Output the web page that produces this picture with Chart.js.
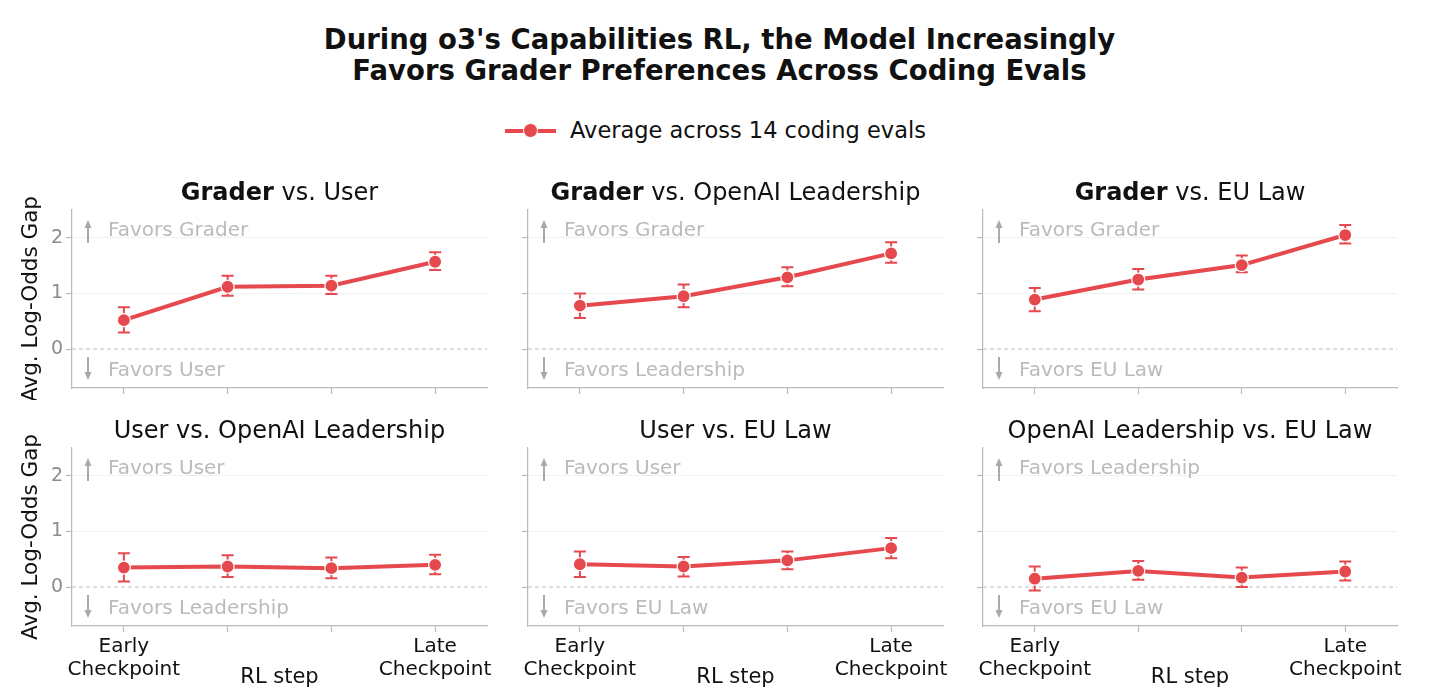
<!DOCTYPE html>
<html><head><meta charset="utf-8">
<script src="https://cdn.jsdelivr.net/npm/chart.js@4.4.0/dist/chart.umd.min.js"></script>
<style>
body{margin:0;background:#fff;width:1439px;height:699px;overflow:hidden;position:relative;font-family:'DejaVu Sans',sans-serif;}
canvas{position:absolute;}
.t{position:absolute;white-space:nowrap;color:#111;}
</style></head><body>
<div class="t" style="left:0;width:1439px;top:24px;text-align:center;font-weight:bold;font-size:27.5px;line-height:31px;">During o3's Capabilities RL, the Model Increasingly<br>Favors Grader Preferences Across Coding Evals</div>
<div class="t" style="left:505px;top:119px;height:24px;">
  <div style="position:absolute;left:0;top:10px;width:51px;height:4px;background:#e5484d;"></div>
  <div style="position:absolute;left:18px;top:4px;width:13px;height:13px;border-radius:50%;background:#e5484d;border:1px solid #fff;"></div>
  <div style="position:absolute;left:65px;top:-3px;font-size:22.5px;line-height:28px;">Average across 14 coding evals</div>
</div>
<script>
const RED = '#e5484d';
const stepLabels = [['Early','Checkpoint'], '', '', ['Late','Checkpoint']];
const yTicks = [0, 1, 2];

const graderUserMean = [0.52, 1.12, 1.14, 1.57];
const graderUserLo   = [0.30, 0.96, 0.99, 1.42];
const graderUserHi   = [0.75, 1.32, 1.32, 1.74];

const graderLeadMean = [0.78, 0.95, 1.29, 1.72];
const graderLeadLo   = [0.56, 0.75, 1.13, 1.55];
const graderLeadHi   = [1.00, 1.16, 1.47, 1.92];

const graderEUMean = [0.89, 1.25, 1.51, 2.05];
const graderEULo   = [0.68, 1.07, 1.38, 1.90];
const graderEUHi   = [1.10, 1.44, 1.68, 2.23];

const userLeadMean = [0.35, 0.37, 0.34, 0.40];
const userLeadLo   = [0.10, 0.18, 0.16, 0.23];
const userLeadHi   = [0.61, 0.57, 0.53, 0.58];

const userEUMean = [0.41, 0.37, 0.48, 0.70];
const userEULo   = [0.18, 0.19, 0.32, 0.52];
const userEUHi   = [0.64, 0.54, 0.64, 0.88];

const leadEUMean = [0.15, 0.29, 0.17, 0.28];
const leadEULo   = [-0.06, 0.13, 0.00, 0.12];
const leadEUHi   = [0.37, 0.47, 0.35, 0.46];

const panels = [
  {bold:'Grader', rest:' vs. User', up:'Favors Grader', down:'Favors User', mean:graderUserMean, lo:graderUserLo, hi:graderUserHi},
  {bold:'Grader', rest:' vs. OpenAI Leadership', up:'Favors Grader', down:'Favors Leadership', mean:graderLeadMean, lo:graderLeadLo, hi:graderLeadHi},
  {bold:'Grader', rest:' vs. EU Law', up:'Favors Grader', down:'Favors EU Law', mean:graderEUMean, lo:graderEULo, hi:graderEUHi},
  {bold:'', rest:'User vs. OpenAI Leadership', up:'Favors User', down:'Favors Leadership', mean:userLeadMean, lo:userLeadLo, hi:userLeadHi},
  {bold:'', rest:'User vs. EU Law', up:'Favors User', down:'Favors EU Law', mean:userEUMean, lo:userEULo, hi:userEUHi},
  {bold:'', rest:'OpenAI Leadership vs. EU Law', up:'Favors Leadership', down:'Favors EU Law', mean:leadEUMean, lo:leadEULo, hi:leadEUHi}
];

const AXL = [72, 528, 983], AXW = [415, 415, 414], AXT = [210, 448], AXH = 178;
const TITLE_Y = [192, 430];

const overlay = {
  id: 'overlay',
  beforeDatasetsDraw(chart, args, opts) {
    const {ctx, chartArea: a, scales: {x, y}} = chart;
    const h = a.bottom - a.top;
    ctx.save();
    const y0 = y.getPixelForValue(0);
    ctx.strokeStyle = '#bdbdbd'; ctx.lineWidth = 1; ctx.setLineDash([4, 3]);
    ctx.beginPath(); ctx.moveTo(a.left, y0); ctx.lineTo(a.right, y0); ctx.stroke();
    ctx.setLineDash([]);
    ctx.font = '20px "DejaVu Sans"'; ctx.fillStyle = '#bbbbbb'; ctx.textBaseline = 'middle'; ctx.textAlign = 'left';
    ctx.fillText(opts.up, a.left + 36, a.top + 0.107 * h + 2);
    ctx.fillText(opts.down, a.left + 36, a.top + 0.893 * h + 2);
    const ax = a.left + 16;
    ctx.strokeStyle = '#aaaaaa'; ctx.fillStyle = '#aaaaaa'; ctx.lineWidth = 2;
    const arrow = (yFrom, yTo) => {
      const dir = yTo < yFrom ? -1 : 1;
      ctx.beginPath(); ctx.moveTo(ax, yFrom); ctx.lineTo(ax, yTo - dir * 6); ctx.stroke();
      ctx.beginPath(); ctx.moveTo(ax, yTo); ctx.lineTo(ax - 3.5, yTo - dir * 8); ctx.lineTo(ax + 3.5, yTo - dir * 8); ctx.closePath(); ctx.fill();
    };
    arrow(a.top + 0.185 * h, a.top + 0.056 * h);
    arrow(a.top + 0.826 * h, a.top + 0.955 * h);
    ctx.strokeStyle = RED; ctx.lineWidth = 2;
    opts.lo.forEach((lo, i) => {
      const px = x.getPixelForValue(i);
      const pl = y.getPixelForValue(lo), ph = y.getPixelForValue(opts.hi[i]);
      ctx.beginPath();
      ctx.moveTo(px, pl); ctx.lineTo(px, ph);
      ctx.moveTo(px - 6, pl); ctx.lineTo(px + 6, pl);
      ctx.moveTo(px - 6, ph); ctx.lineTo(px + 6, ph);
      ctx.stroke();
    });
    ctx.restore();
  }
};

Chart.defaults.font.family = '"DejaVu Sans"';

panels.forEach((p, idx) => {
  const r = Math.floor(idx / 3), c = idx % 3;
  const yW = c === 0 ? 72 : 20;
  const xH = r === 1 ? 64 : 12;
  const padT = 30, padR = 20;
  const cv = document.createElement('canvas');
  const W = yW + AXW[c] + padR, H = padT + AXH + xH;
  cv.width = W; cv.height = H;
  cv.style.left = (AXL[c] - yW) + 'px'; cv.style.top = (AXT[r] - padT) + 'px';
  cv.style.width = W + 'px'; cv.style.height = H + 'px';
  document.body.appendChild(cv);

  const t = document.createElement('div');
  t.className = 't';
  t.style.left = AXL[c] + 'px'; t.style.width = AXW[c] + 'px'; t.style.textAlign = 'center';
  t.style.top = (TITLE_Y[r] - 14) + 'px'; t.style.fontSize = '24px'; t.style.lineHeight = '28px';
  t.innerHTML = (p.bold ? '<b>' + p.bold + '</b>' : '') + p.rest.replace(/ /g, ' ');
  document.body.appendChild(t);

  new Chart(cv, {
    type: 'line',
    data: {
      labels: stepLabels,
      datasets: [{
        data: p.mean, borderColor: RED, backgroundColor: RED, borderWidth: 4,
        pointRadius: 6.5, pointHoverRadius: 6.5, pointBackgroundColor: RED,
        pointBorderColor: '#ffffff', pointBorderWidth: 1.2, tension: 0, clip: false
      }]
    },
    options: {
      responsive: false, animation: false,
      layout: {padding: {left: 0, top: padT, right: padR, bottom: 0}},
      plugins: {
        legend: {display: false}, tooltip: {enabled: false}, title: {display: false},
        overlay: {up: p.up, down: p.down, lo: p.lo, hi: p.hi}
      },
      scales: {
        x: {
          type: 'category', offset: true,
          afterFit: s => { s.height = xH; s.paddingLeft = 0; s.paddingRight = 0; },
          grid: {display: true, drawOnChartArea: false, offset: false, tickColor: '#bbbbbb', tickLength: 6, tickWidth: 1.2},
          border: {color: '#bbbbbb', width: 1.2},
          ticks: {display: r === 1, autoSkip: false, maxRotation: 0, minRotation: 0, color: '#111', font: {size: 20, lineHeight: 1.15}, padding: 3},
          title: {display: r === 1, text: 'RL step', color: '#111', font: {size: 21, lineHeight: 1.2}, padding: {top: 0, bottom: 0}}
        },
        y: {
          min: -0.7, max: 2.5,
          afterBuildTicks: s => { s.ticks = yTicks.map(v => ({value: v})); },
          afterFit: s => { s.width = yW; s.paddingTop = 0; s.paddingBottom = 0; },
          grid: {color: ctx => (ctx.tick && ctx.tick.value === 0) ? 'rgba(0,0,0,0)' : '#f1f1f1', tickColor: '#bbbbbb', tickLength: 6, tickWidth: 1.2, lineWidth: 1},
          border: {color: '#bbbbbb', width: 1.2},
          ticks: {display: c === 0, color: '#8c8c8c', font: {size: 19}, padding: 3},
          title: {display: c === 0, text: 'Avg. Log-Odds Gap', color: '#111', font: {size: 21.5, lineHeight: 1.2}, padding: {top: 19, bottom: 0}}
        }
      }
    },
    plugins: [overlay]
  });
});
</script>
</body></html>
